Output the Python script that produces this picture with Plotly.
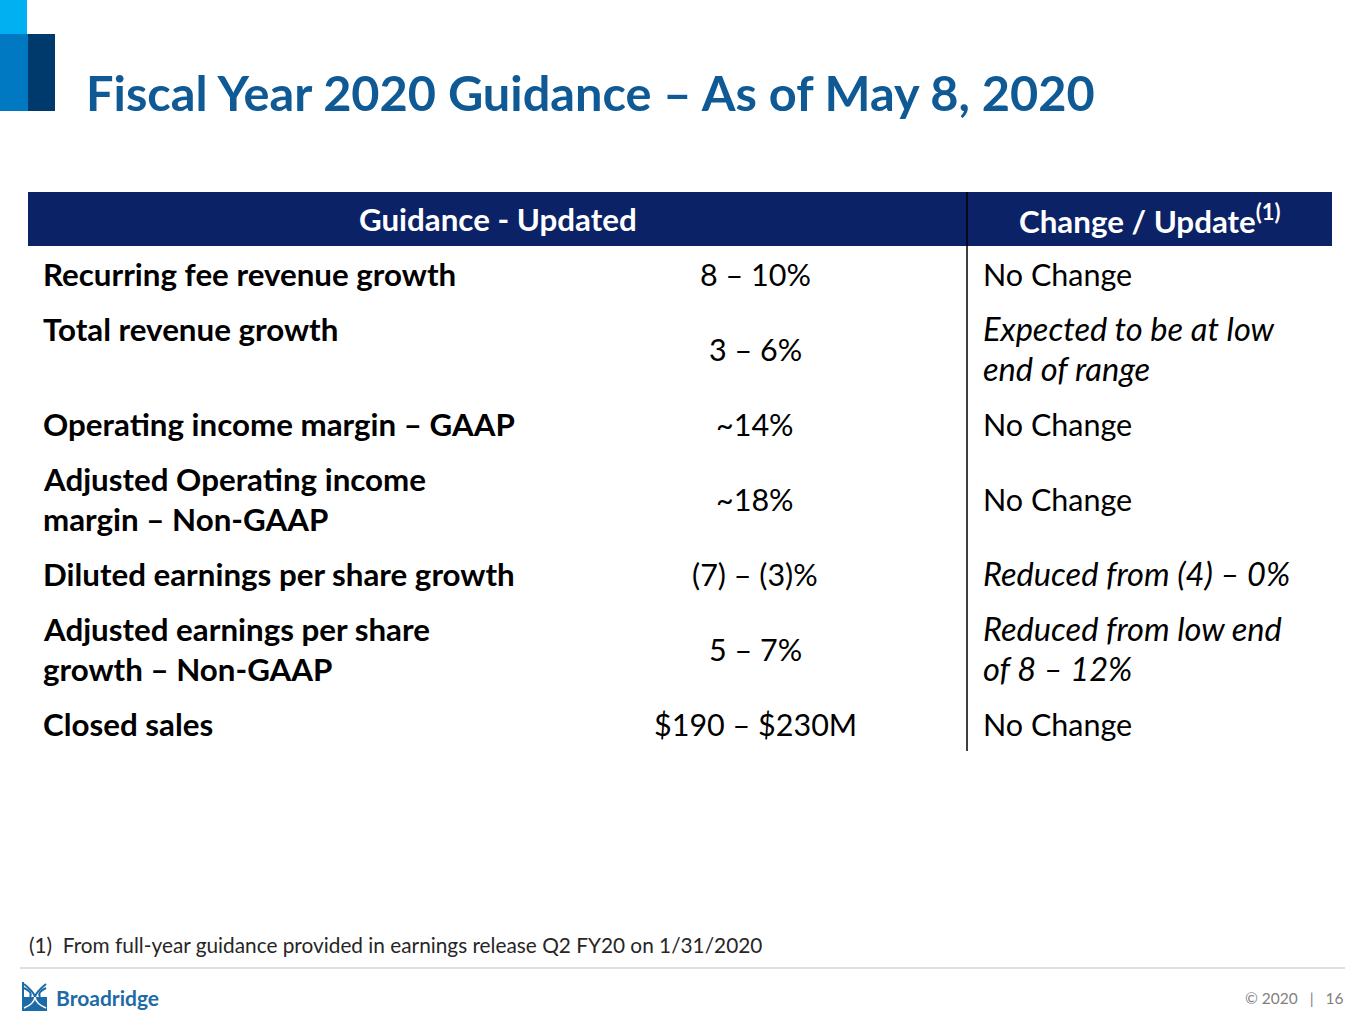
import plotly.graph_objects as go

# ---------------- data ----------------
title_text = "Fiscal Year 2020 Guidance \u2013 As of May 8, 2020"
header_left = "Guidance - Updated"
header_right = "Change / Update<sup>(1)</sup>"

metric_labels = [
    ["Recurring fee revenue growth"],
    ["Total revenue growth"],
    ["Operating income margin \u2013 GAAP"],
    ["Adjusted Operating income", "margin \u2013 Non-GAAP"],
    ["Diluted earnings per share growth"],
    ["Adjusted earnings per share", "growth \u2013 Non-GAAP"],
    ["Closed sales"],
]
guidance_values = [
    "8 \u2013 10%",
    "3 \u2013 6%",
    "~14%",
    "~18%",
    "(7) \u2013 (3)%",
    "5 \u2013 7%",
    "$190 \u2013 $230M",
]
change_updates = [
    ["No Change"],
    ["Expected to be at low", "end of range"],
    ["No Change"],
    ["No Change"],
    ["Reduced from (4) \u2013 0%"],
    ["Reduced from low end", "of 8 \u2013 12%"],
    ["No Change"],
]
change_italic = [False, True, False, False, True, True, False]

footnote = "(1)  From full-year guidance provided in earnings release Q2 FY20 on 1/31/2020"
footer_right = "\u00a9 2020   |   16"
brand = "Broadridge"

# ---------------- style ----------------
W, H = 1365, 1024
FONT = "Lato"
NAVY = "#0B2266"
TITLE_BLUE = "#0F5A94"
TXT = "#000000"
BOLD_SIZE = 31.3
REG_SIZE = 30.5
ITAL_SIZE = 32.6
LINE_GAP = 40
ROW_H1, ROW_H2 = 55, 95
TABLE_TOP = 246
X_LEFT, X_DIV, X_RIGHT = 28, 967, 1332
X_LABEL, X_VALUE, X_CHANGE = 41, 755, 981

fig = go.Figure()
shapes = []
annotations = []

# top-left logo blocks
shapes += [
    dict(type="rect", x0=0, x1=27, y0=0, y1=34, fillcolor="#00B0F0", line_width=0, layer="below"),
    dict(type="rect", x0=0, x1=28, y0=34, y1=111, fillcolor="#0079C2", line_width=0, layer="below"),
    dict(type="rect", x0=28, x1=55, y0=34, y1=111, fillcolor="#003A6C", line_width=0, layer="below"),
]

# title
annotations.append(dict(x=84, y=92, text="<b>" + title_text + "</b>", xanchor="left", yanchor="middle",
                        showarrow=False, font=dict(family=FONT, size=48.7, color=TITLE_BLUE)))

# header band
shapes.append(dict(type="rect", x0=X_LEFT, x1=X_RIGHT, y0=192, y1=246, fillcolor=NAVY, line_width=0, layer="below"))
annotations.append(dict(x=(X_LEFT + X_DIV) / 2, y=219, text="<b>" + header_left + "</b>", xanchor="center",
                        yanchor="middle", showarrow=False, font=dict(family=FONT, size=BOLD_SIZE, color="white")))
annotations.append(dict(x=(X_DIV + X_RIGHT) / 2, y=219, text="<b>" + header_right + "</b>", xanchor="center",
                        yanchor="middle", showarrow=False, font=dict(family=FONT, size=BOLD_SIZE, color="white")))

# rows
y = TABLE_TOP
for i in range(len(metric_labels)):
    nlines = max(len(metric_labels[i]), len(change_updates[i]))
    h = ROW_H1 if nlines == 1 else ROW_H2
    c = y + h / 2
    # labels: top aligned
    first = c - (nlines - 1) * LINE_GAP / 2
    for k, line in enumerate(metric_labels[i]):
        annotations.append(dict(x=X_LABEL, y=first + k * LINE_GAP, text="<b>" + line + "</b>", xanchor="left",
                                yanchor="middle", showarrow=False,
                                font=dict(family=FONT, size=BOLD_SIZE, color=TXT)))
    # value: centered
    annotations.append(dict(x=X_VALUE, y=c, text=guidance_values[i], xanchor="center", yanchor="middle",
                            showarrow=False, font=dict(family=FONT, size=REG_SIZE, color=TXT)))
    # change: centered block
    cl = change_updates[i]
    f0 = c - (len(cl) - 1) * LINE_GAP / 2
    for k, line in enumerate(cl):
        if change_italic[i]:
            t, sz = "<i>" + line + "</i>", ITAL_SIZE
        else:
            t, sz = line, REG_SIZE
        annotations.append(dict(x=X_CHANGE, y=f0 + k * LINE_GAP, text=t, xanchor="left", yanchor="middle",
                                showarrow=False, font=dict(family=FONT, size=sz, color=TXT)))
    y += h

# vertical divider
shapes.append(dict(type="line", x0=X_DIV, x1=X_DIV, y0=192, y1=y, line=dict(color="#000000", width=1.5)))

# footnote + footer
annotations.append(dict(x=27, y=944, text=footnote, xanchor="left", yanchor="middle", showarrow=False,
                        font=dict(family=FONT, size=20.8, color="#262626")))
shapes.append(dict(type="line", x0=20, x1=1345, y0=968, y1=968, line=dict(color="#BFBFBF", width=1)))

# Broadridge mark
LOGO_BLUE = "#1D6BA6"
shapes += [
    dict(type="rect", x0=22, x1=47, y0=997, y1=1011, fillcolor=LOGO_BLUE, line_width=0),
    dict(type="rect", x0=22, x1=24, y0=982, y1=997, fillcolor=LOGO_BLUE, line_width=0),
    dict(type="path", path="M 24 984 Q 34 992 35 997 Q 36 992 46 984", line=dict(color=LOGO_BLUE, width=2)),
    dict(type="path", path="M 24 988 Q 33 992 30 997", line=dict(color=LOGO_BLUE, width=2)),
    dict(type="path", path="M 46 988 Q 37 992 40 997", line=dict(color=LOGO_BLUE, width=2)),
    dict(type="path", path="M 35 997 Q 34 1004 24 1008 M 35 997 Q 36 1004 46 1008", line=dict(color="white", width=1.5)),
]
annotations.append(dict(x=54, y=997, text="<b>" + brand + "</b>", xanchor="left", yanchor="middle",
                        showarrow=False, font=dict(family=FONT, size=21, color=LOGO_BLUE)))
annotations.append(dict(x=1346, y=998, text=footer_right, xanchor="right", yanchor="middle", showarrow=False,
                        font=dict(family=FONT, size=15.5, color="#7F7F7F")))

fig.update_layout(
    width=W, height=H,
    margin=dict(l=0, r=0, t=0, b=0),
    paper_bgcolor="white", plot_bgcolor="white",
    xaxis=dict(range=[0, W], visible=False, fixedrange=True),
    yaxis=dict(range=[H, 0], visible=False, fixedrange=True),
    shapes=shapes, annotations=annotations,
    showlegend=False,
)
fig.write_html("out.html", config={"displayModeBar": False},
               post_script="document.body.style.margin='0';document.body.style.overflow='hidden';")
